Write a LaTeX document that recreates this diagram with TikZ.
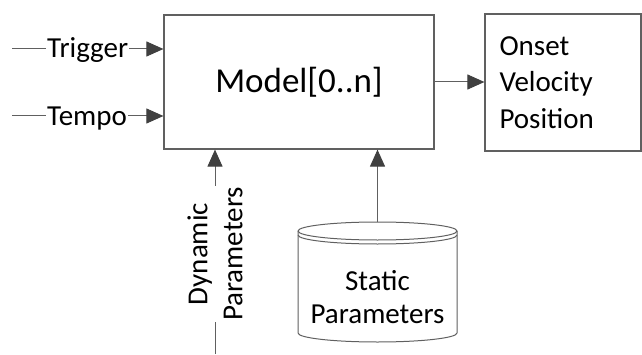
\documentclass[tikz,border=0pt]{standalone}
\usepackage{fontspec}
\setmainfont{Carlito}
\usetikzlibrary{arrows.meta,positioning}

\definecolor{linegray}{RGB}{96,96,96}
\definecolor{tipgray}{RGB}{64,64,64}

\begin{document}
\begin{tikzpicture}[x=1pt,y=1pt,
  box/.style={draw=linegray,line width=1.2pt,rectangle,inner sep=0pt},
  conn/.style={draw=linegray,line width=1pt},
  flow/.style={conn,-{Triangle[length=17pt,width=15pt,color=tipgray]}},
  lbl/.style={inner sep=1pt,font=\fontsize{29}{35}\selectfont}]
\useasboundingbox (0,0) rectangle (642,354);

% the model and what comes out of it
\node[box,minimum width=270pt,minimum height=134pt,font=\fontsize{35}{42}\selectfont] (model) at (299,272) {Model[0..n]};
\node[box,minimum width=156pt,minimum height=137pt,inner xsep=14.5pt,text width=127pt,align=left,font=\fontsize{29}{36.7}\selectfont] (out) at (563,271.5) {Onset\\Velocity\\Position};
\draw[flow] (model.east) -- (model.east -| out.west);

% inputs on the left
\coordinate (trigin) at (12,305);
\node[lbl,anchor=base west] (trig) at (46,296) {Trigger};
\draw[conn] (trigin) -- (trigin -| trig.west);
\draw[flow] (trigin -| trig.east) -- (trigin -| model.west);

\coordinate (tempin) at (12,238);
\node[lbl,anchor=base west] (temp) at (46,229) {Tempo};
\draw[conn] (tempin) -- (tempin -| temp.west);
\draw[flow] (tempin -| temp.east) -- (tempin -| model.west);

% dynamic parameters from below
\node[lbl,rotate=90,align=center] (dyn) at (215,100) {Dynamic\\Parameters};
\coordinate (dynin) at (215,0);
\draw[conn] (dynin) -- (dyn.west);
\draw[flow] (dyn.east) -- (dyn.east |- model.south);

% static parameters store
\draw[conn] (298,123) -- (298,21) arc[start angle=180,end angle=360,x radius=79.5pt,y radius=9pt] -- (457,123);
\draw[conn] (377.5,123) ellipse [x radius=79.5pt,y radius=9pt];
\draw[conn] (298,119) arc[start angle=180,end angle=360,x radius=79.5pt,y radius=9pt];
\coordinate (stattop) at (377.5,132);
\node[lbl,align=center,font=\fontsize{29}{33}\selectfont] (static) at (377.5,57) {Static\\Parameters};
\draw[flow] (stattop) -- (stattop |- model.south);

\end{tikzpicture}
\end{document}
